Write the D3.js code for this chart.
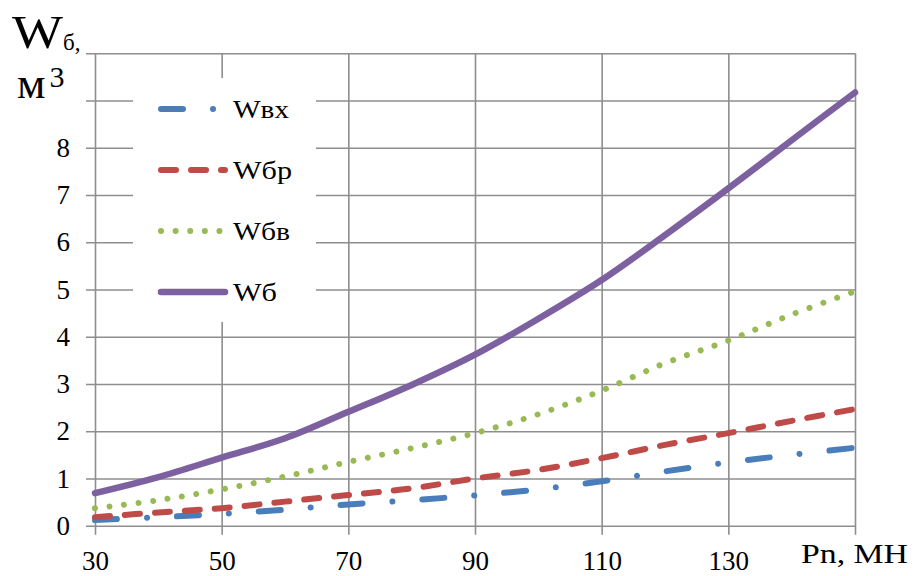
<!DOCTYPE html>
<html><head><meta charset="utf-8">
<script src="https://cdn.jsdelivr.net/npm/d3@7"></script>
<style>
body{margin:0;background:#fff;}
</style></head>
<body><svg id="c" width="918" height="576"></svg>
<script>
const pn = [30,40,50,60,70,80,90,100,110,120,130,140,150];
const wvx = [0.12,0.18,0.25,0.34,0.45,0.54,0.64,0.77,0.94,1.15,1.34,1.50,1.65];
const wbr = [0.18,0.28,0.37,0.51,0.65,0.79,1.00,1.18,1.43,1.71,1.96,2.22,2.47];
const wbv = [0.37,0.54,0.77,1.04,1.35,1.64,1.96,2.36,2.86,3.44,3.92,4.47,4.96];
const wb  = [0.69,1.03,1.44,1.85,2.41,2.98,3.62,4.38,5.20,6.15,7.14,8.16,9.17];
const xTicks = [30,50,70,90,110,130,150];
const xTickLabels = ["30","50","70","90","110","130",""];
const yTicks = [0,1,2,3,4,5,6,7,8,9,10];
const yTickLabels = ["0","1","2","3","4","5","6","7","8","",""];
const seriesLabels = ["Wвх","Wбр","Wбв","Wб"];

const FF = "Liberation Serif";
const series = [
  {vals:wvx, color:"#4a7ebb", dash:"22,30,0.01,30", w:6},
  {vals:wbr, color:"#be4b48", dash:"15,15", w:6},
  {vals:wbv, color:"#98b954", dash:"0.01,14.6", w:6},
  {vals:wb,  color:"#7d60a0", dash:null, w:6.5}
];

const svg = d3.select("#c");
const m = {l:95, t:53.3, r:855, b:525.7};
const x = d3.scaleLinear().domain([30,150]).range([m.l, m.r]);
const y = d3.scaleLinear().domain([0,10]).range([m.b, m.t]);
const W = m.r - m.l, H = m.b - m.t;
const grid = "#8e8e8e";

const gy = svg.append("g").attr("transform",`translate(${m.l},0)`)
  .call(d3.axisLeft(y).tickValues(yTicks).tickSize(-W).tickPadding(25)
    .tickFormat((d,i)=>yTickLabels[i]));
gy.attr("font-family",FF).attr("font-size",27);
gy.select(".domain").remove();
gy.selectAll(".tick line").attr("x1",-9).attr("stroke",grid).attr("stroke-width",1.6);
gy.selectAll(".tick text").style("font-size","27px").style("font-family",FF).attr("fill","#000");

const gx = svg.append("g").attr("transform",`translate(0,${m.b})`)
  .call(d3.axisBottom(x).tickValues(xTicks).tickSize(-H).tickPadding(25)
    .tickFormat((d,i)=>xTickLabels[i]));
gx.attr("font-family",FF).attr("font-size",27);
gx.select(".domain").remove();
gx.selectAll(".tick line").attr("y1",9).attr("stroke",grid).attr("stroke-width",1.6);
gx.selectAll(".tick text").style("font-size","27px").style("font-family",FF).attr("fill","#000");

svg.append("rect").attr("x",133).attr("y",78).attr("width",183).attr("height",244).attr("fill","#fff");

const line = d3.line().x((d,i)=>x(pn[i])).y(d=>y(d)).curve(d3.curveCatmullRom.alpha(0.5));
series.forEach(s=>{
  svg.append("path").datum(s.vals).attr("d",line)
    .attr("fill","none").attr("stroke",s.color).attr("stroke-width",s.w)
    .attr("stroke-linecap","round").attr("stroke-linejoin","round")
    .attr("stroke-dasharray",s.dash);
});

const legY = [109,170,231,292];
const legX2 = [213.01,225,221,225];
const legLen = [56,59,57,44];
series.forEach((s,i)=>{
  svg.append("line").attr("x1",161).attr("x2",legX2[i]).attr("y1",legY[i]).attr("y2",legY[i])
    .attr("stroke",s.color).attr("stroke-width",s.w).attr("stroke-linecap","round")
    .attr("stroke-dasharray",s.dash);
  svg.append("text").attr("x",233).attr("y",legY[i]+9)
    .style("font-family",FF).style("font-size","26px")
    .attr("textLength",legLen[i]).attr("lengthAdjust","spacingAndGlyphs")
    .text(seriesLabels[i]);
});

svg.append("text").attr("x",12).attr("y",48).style("font-family",FF).style("font-size","47px")
  .attr("textLength",51).attr("lengthAdjust","spacingAndGlyphs").text("W");
svg.append("text").attr("x",63).attr("y",50).style("font-family",FF).style("font-size","23px").text("б,");
const tm = svg.append("text").attr("x",17).attr("y",98).style("font-family",FF);
tm.append("tspan").text("м").style("font-size","45px");
tm.append("tspan").text("3").attr("dx",4).attr("dy",-11).style("font-size","30px");

svg.append("text").attr("x",801).attr("y",563)
  .style("font-family",FF).style("font-size","28px")
  .attr("textLength",107).attr("lengthAdjust","spacingAndGlyphs").text("Pn, МН");
</script></body></html>
